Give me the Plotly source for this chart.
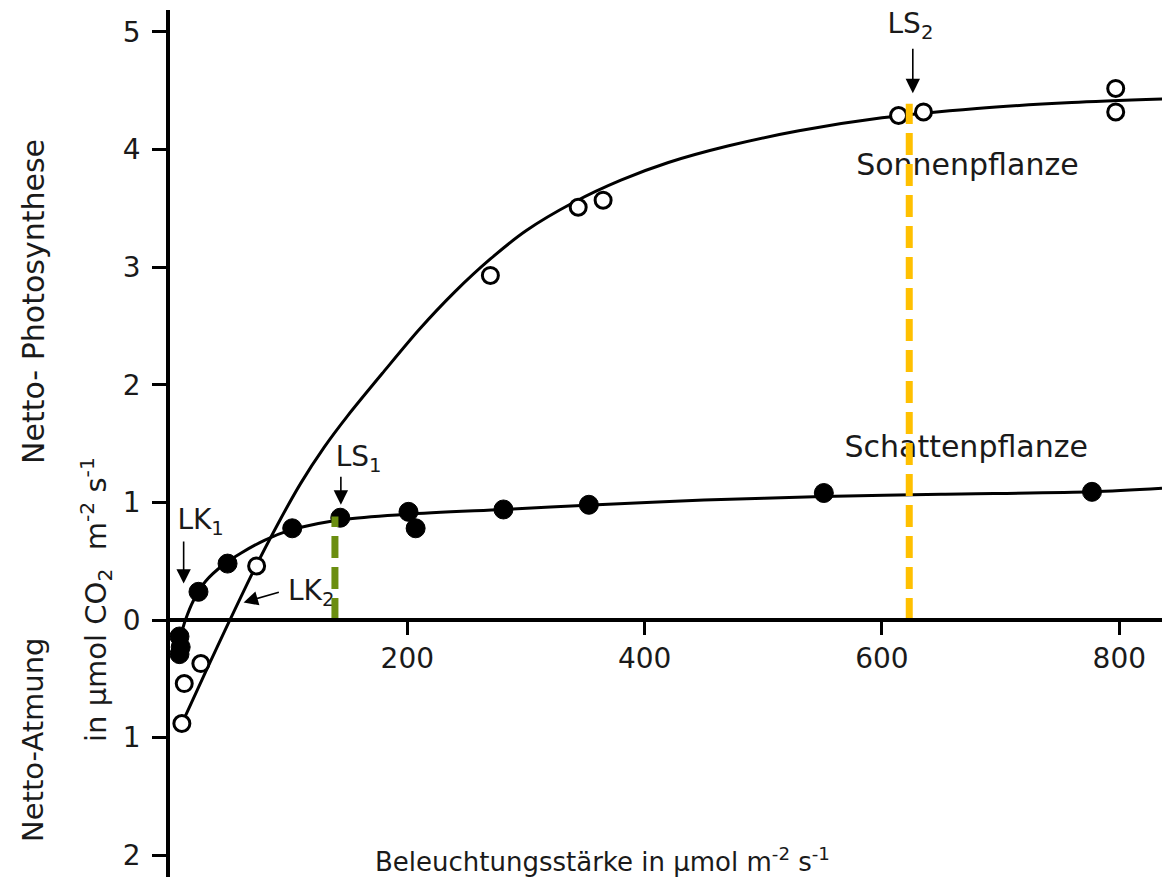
import plotly.graph_objects as go

# ---- data ----
sun_x = [10, 12, 26, 73, 270, 344, 365, 614, 635, 797, 797]
sun_y = [-0.88, -0.54, -0.37, 0.46, 2.93, 3.51, 3.57, 4.29, 4.32, 4.52, 4.32]

shade_x = [8, 9, 8, 24, 48.5, 103, 143.5, 201, 207, 281, 353, 551, 777]
shade_y = [-0.14, -0.23, -0.29, 0.24, 0.48, 0.78, 0.87, 0.92, 0.78, 0.94, 0.98, 1.08, 1.09]

sun_curve_x = [10, 30, 50, 70, 90, 110, 130, 150, 180, 210, 240, 270, 300, 340, 380,
               420, 470, 530, 600, 680, 760, 837]
sun_curve_y = [-0.88, -0.44, -0.01, 0.41, 0.80, 1.16, 1.47, 1.74, 2.11, 2.47, 2.79, 3.07,
               3.31, 3.55, 3.74, 3.89, 4.03, 4.16, 4.27, 4.35, 4.40, 4.43]

shade_curve_x = [8, 13, 20, 30, 45, 60, 80, 100, 125, 150, 200, 280, 360, 450, 550, 650, 777, 836]
shade_curve_y = [-0.17, 0.0, 0.17, 0.33, 0.47, 0.57, 0.68, 0.76, 0.82, 0.86, 0.90, 0.94,
                 0.98, 1.02, 1.05, 1.07, 1.09, 1.12]

ls1_x, ls1_y = 139, 0.88
ls2_x, ls2_y = 623, 4.39

y_tickvals = [-2, -1, 0, 1, 2, 3, 4, 5]
y_ticktext = ["2", "1", "0", "1", "2", "3", "4", "5"]
x_tickvals = [200, 400, 600, 800]
x_ticktext = ["200", "400", "600", "800"]

label_text = ["LK<sub>1</sub>", "LK<sub>2</sub>", "LS<sub>1</sub>", "LS<sub>2</sub>"]
label_x = [25.8, 119, 159, 624]
label_y = [0.83, 0.23, 1.37, 5.05]

name_text = ["Sonnenpflanze", "Schattenpflanze"]
name_x = [672, 671]
name_y = [3.85, 1.45]

# arrows: (head x, head y, tail x, tail y)
arrows = [
    (11.5, 0.31, 11.5, 0.68),
    (62, 0.15, 93, 0.24),
    (144, 0.98, 144, 1.23),
    (626, 4.48, 626, 4.87),
]

FONT = "DejaVu Sans"
TXT = "#1a1a1a"
x_range = [0, 836]
y_range = [-2.185, 5.187]

fig = go.Figure()

fig.add_trace(go.Scatter(x=sun_curve_x, y=sun_curve_y, mode="lines",
                         line=dict(color="black", width=3, shape="spline", smoothing=0.8),
                         hoverinfo="skip"))
fig.add_trace(go.Scatter(x=shade_curve_x, y=shade_curve_y, mode="lines",
                         line=dict(color="black", width=3, shape="spline", smoothing=0.8),
                         hoverinfo="skip"))
fig.add_trace(go.Scatter(x=sun_x, y=sun_y, mode="markers",
                         marker=dict(size=16, color="white", line=dict(color="black", width=3)),
                         name="Sonnenpflanze"))
fig.add_trace(go.Scatter(x=shade_x, y=shade_y, mode="markers",
                         marker=dict(size=19, color="black", line=dict(color="black", width=1)),
                         name="Schattenpflanze"))
fig.add_trace(go.Scatter(x=label_x, y=label_y, mode="text", text=label_text,
                         textposition="middle center", cliponaxis=False,
                         textfont=dict(family=FONT, size=28, color=TXT),
                         hoverinfo="skip"))
fig.add_trace(go.Scatter(x=name_x, y=name_y, mode="text", text=name_text,
                         textposition="middle center", cliponaxis=False,
                         textfont=dict(family=FONT, size=30, color=TXT),
                         hoverinfo="skip"))
fig.add_trace(go.Scatter(x=[ls1_x, ls1_x], y=[0, ls1_y], mode="lines",
                         line=dict(color="#6B8E10", width=7, dash="22px,9px"),
                         hoverinfo="skip"))
fig.add_trace(go.Scatter(x=[ls2_x, ls2_x], y=[0, ls2_y], mode="lines",
                         line=dict(color="#FFC000", width=7, dash="22px,9px"),
                         hoverinfo="skip"))

for hx, hy, tx, ty in arrows:
    fig.add_annotation(x=hx, y=hy, ax=tx, ay=ty, xref="x", yref="y", axref="x", ayref="y",
                       text="", showarrow=True, arrowhead=2, arrowsize=1.8,
                       arrowwidth=1.6, arrowcolor="black", standoff=0)

# the page body adds an 8 px offset; plot area targets page px 170..1162 x 10..877
OFF = 8
W, H = 1175, 883
ml, mt = 170 - OFF, 10 - OFF
mr = W - (1162 - OFF)
mb = H - (877 - OFF)
pw, ph = W - ml - mr, H - mt - mb


def px_to_paper(px, py):
    return (px - OFF - ml) / pw, 1 - (py - OFF - mt) / ph


titles = [
    ("Netto- Photosynthese", 33, 302, -90, 30),
    ("Netto-Atmung", 33, 740, -90, 29),
    ("in µmol CO<sub>2</sub>  m<sup>-2</sup> s<sup>-1</sup>", 96, 600, -90, 29),
    ("Beleuchtungsstärke in µmol m<sup>-2</sup> s<sup>-1</sup>", 602, 860, 0, 26),
]
for text, px, py, ang, size in titles:
    ax_, ay_ = px_to_paper(px, py)
    fig.add_annotation(x=ax_, y=ay_, xref="paper", yref="paper", text=text,
                       showarrow=False, textangle=ang, xanchor="center", yanchor="middle",
                       font=dict(family=FONT, size=size, color=TXT))

zero_pos = (0 - y_range[0]) / (y_range[1] - y_range[0])

fig.update_layout(
    width=W, height=H,
    margin=dict(l=ml, r=mr, t=mt, b=mb, autoexpand=False),
    paper_bgcolor="white", plot_bgcolor="white",
    showlegend=False,
    xaxis=dict(range=x_range, showgrid=False, zeroline=False, showline=True,
               linecolor="black", linewidth=3.5, ticks="outside", ticklen=13,
               tickwidth=2.5, tickcolor="black", tickvals=x_tickvals, ticktext=x_ticktext,
               tickfont=dict(family=FONT, size=28, color=TXT), automargin=False,
               anchor="free", position=zero_pos),
    yaxis=dict(range=y_range, showgrid=False, zeroline=False, showline=True,
               linecolor="black", linewidth=3.5, ticks="outside", ticklen=14,
               tickwidth=2.5, tickcolor="black", tickvals=y_tickvals, ticktext=y_ticktext,
               tickfont=dict(family=FONT, size=28, color=TXT), ticklabelstandoff=6,
               automargin=False),
)

fig.write_html("out.html")
